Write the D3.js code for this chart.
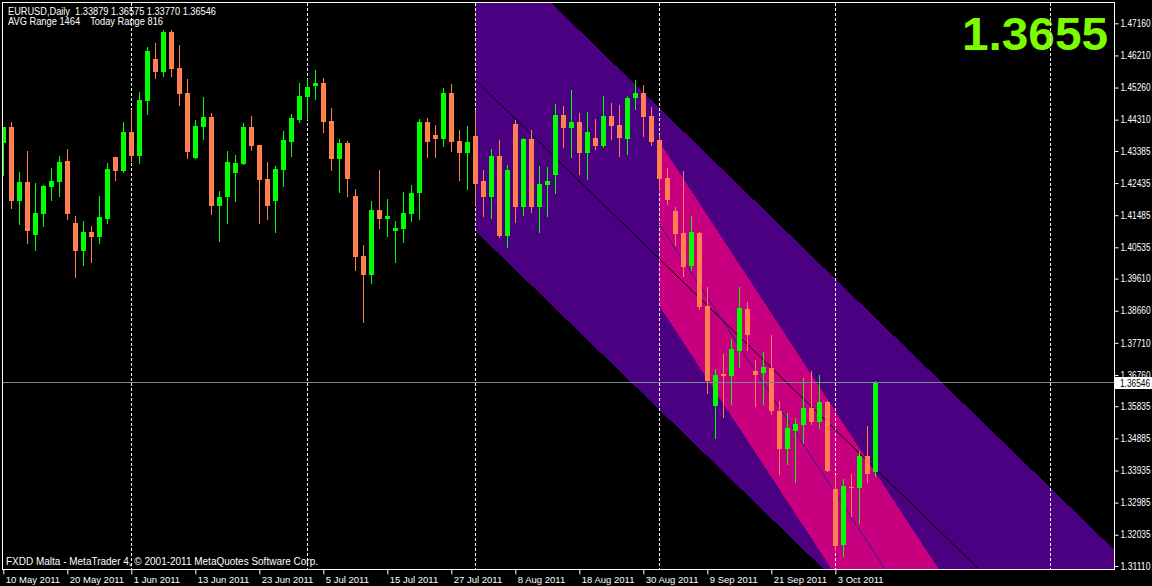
<!DOCTYPE html>
<html><head><meta charset="utf-8">
<script src="https://cdn.jsdelivr.net/npm/d3@7"></script>
<style>html,body{margin:0;padding:0;background:#000;overflow:hidden}</style>
</head><body>
<svg id="c" width="1152" height="586"></svg>
<script>
// ---- DATA (EURUSD Daily, 10 May 2011 .. 10 Oct 2011) ----
const openP = [1.4363,1.4409,1.4189,1.4247,1.4091,1.4153,1.4233,1.4248,1.4309,1.4126,
1.4044,1.4099,1.4085,1.4138,1.4321,1.4280,1.4395,1.4324,1.4486,1.4611,
1.4573,1.4690,1.4584,1.4510,1.4319,1.4410,1.4439,1.4177,1.4201,1.4274,
1.4301,1.4410,1.4356,1.4256,1.4189,1.4283,1.4366,1.4431,1.4499,1.4531,
1.4540,1.4427,1.4316,1.4362,1.4206,1.4028,1.3973,1.4164,1.4138,1.4103,
1.4109,1.4153,1.4213,1.4424,1.4386,1.4375,1.4510,1.4368,1.4331,1.4383,
1.4250,1.4201,1.4324,1.4088,1.4418,1.4174,1.4374,1.4174,1.4239,1.4266,
1.4445,1.4405,1.4424,1.4331,1.4377,1.4354,1.4442,1.4415,1.4375,1.4496,
1.4510,1.4442,1.4371,1.4259,1.4161,1.4096,1.3997,1.4096,1.3880,1.3583,
1.3680,1.3674,1.3748,1.3872,1.3688,1.3683,1.3697,1.3570,1.3456,1.3511,
1.3529,1.3579,1.3538,1.3597,1.3340,1.3172,1.3346,1.3343,1.3435,1.33879];
const highP = [1.4410,1.4424,1.4277,1.4339,1.4244,1.4239,1.4288,1.4324,1.4345,1.4146,
1.4132,1.4117,1.4206,1.4303,1.4321,1.4424,1.4460,1.4513,1.4645,1.4658,
1.4696,1.4696,1.4652,1.4551,1.4430,1.4498,1.4451,1.4220,1.4339,1.4327,
1.4421,1.4442,1.4356,1.4306,1.4294,1.4398,1.4448,1.4540,1.4551,1.4578,
1.4554,1.4466,1.4374,1.4368,1.4226,1.4061,1.4191,1.4282,1.4197,1.4132,
1.4217,1.4238,1.4433,1.4436,1.4415,1.4525,1.4537,1.4401,1.4413,1.4460,
1.4282,1.4345,1.4371,1.4297,1.4430,1.4377,1.4401,1.4294,1.4291,1.4478,
1.4472,1.4519,1.4451,1.4454,1.4433,1.4501,1.4480,1.4475,1.4501,1.4548,
1.4534,1.4469,1.4386,1.4288,1.4173,1.4279,1.4146,1.4099,1.3937,1.3694,
1.3739,1.3783,1.3937,1.3892,1.3721,1.3744,1.3795,1.3600,1.3564,1.3549,
1.3668,1.3688,1.3676,1.3600,1.3379,1.3367,1.3382,1.3450,1.3524,1.36575];
const lowP = [1.4268,1.4171,1.4121,1.4065,1.4047,1.4118,1.4192,1.4204,1.4136,1.3967,
1.4000,1.4011,1.4065,1.4124,1.4254,1.4277,1.4310,1.4303,1.4449,1.4555,
1.4561,1.4561,1.4475,1.4319,1.4319,1.4375,1.4153,1.4071,1.4124,1.4189,
1.4301,1.4340,1.4124,1.4138,1.4100,1.4236,1.4325,1.4425,1.4434,1.4493,
1.4396,1.4283,1.4218,1.4204,1.3985,1.3834,1.3949,1.4112,1.4088,1.4011,
1.4068,1.4130,1.4136,1.4322,1.4322,1.4354,1.4337,1.4254,1.4227,1.4183,
1.4147,1.4141,1.4085,1.4053,1.4127,1.4150,1.4159,1.4100,1.4147,1.4215,
1.4351,1.4322,1.4269,1.4257,1.4345,1.4351,1.4375,1.4325,1.4328,1.4464,
1.4384,1.4357,1.4223,1.4182,1.4059,1.3970,1.3985,1.3870,1.3624,1.3491,
1.3553,1.3589,1.3701,1.3751,1.3583,1.3589,1.3560,1.3382,1.3414,1.3358,
1.3476,1.3530,1.3518,1.3391,1.3157,1.3142,1.3258,1.3237,1.3358,1.33770];
const closeP = [1.4410,1.4189,1.4247,1.4103,1.4155,1.4235,1.4250,1.4306,1.4153,1.4044,
1.4099,1.4085,1.4144,1.4285,1.4280,1.4395,1.4324,1.4489,1.4634,1.4573,
1.4690,1.4582,1.4508,1.4334,1.4412,1.4439,1.4177,1.4203,1.4306,1.4303,
1.4410,1.4354,1.4254,1.4177,1.4285,1.4371,1.4436,1.4501,1.4528,1.4540,
1.4425,1.4316,1.4362,1.4257,1.4026,1.3973,1.4164,1.4138,1.4146,1.4111,
1.4155,1.4214,1.4424,1.4366,1.4375,1.4510,1.4366,1.4331,1.4365,1.4242,
1.4201,1.4324,1.4088,1.4282,1.4174,1.4374,1.4174,1.4241,1.4250,1.4445,
1.4405,1.4424,1.4331,1.4395,1.4354,1.4442,1.4413,1.4378,1.4495,1.4510,
1.4440,1.4366,1.4256,1.4192,1.4094,1.3994,1.4099,1.3878,1.3657,1.3676,
1.3674,1.3753,1.3875,1.3793,1.3677,1.3700,1.3568,1.3456,1.3520,1.3532,
1.3579,1.3538,1.3597,1.3391,1.3169,1.3349,1.3343,1.3435,1.3382,1.36546];

const xTickIndex  = [0,8,16,24,32,40,48,56,64,72,80,88,96,104];
const xTickLabels = ["10 May 2011","20 May 2011","1 Jun 2011","13 Jun 2011","23 Jun 2011",
  "5 Jul 2011","15 Jul 2011","27 Jul 2011","8 Aug 2011","18 Aug 2011","30 Aug 2011",
  "9 Sep 2011","21 Sep 2011","3 Oct 2011"];
const yTickValues = [1.47160,1.46210,1.45260,1.44310,1.43385,1.42435,1.41485,1.40535,1.39610,
  1.38660,1.37710,1.36760,1.35835,1.34885,1.33935,1.32985,1.32035,1.31110];
const gridIndex = [16,38,59,82,104,130.8];

// channels: [startIndex, startPrice, endIndex, endPrice]
const mainChannel = [59, 1.4548, 109, 1.3399];
const mainChannelHalf = 0.0446;
const subChannel = [82, 1.4123, 109, 1.3146];
const subChannelHalf = 0.0242;

const bidPrice = 1.36546;
const bigLabel = "1.3655";
const header1 = "EURUSD,Daily  1.33879 1.36575 1.33770 1.36546";
const header2 = "AVG Range 1464    Today Range 816";
const copyright = "FXDD Malta - MetaTrader 4, \u00A9 2001-2011 MetaQuotes Software Corp.";

// ---- DRAW ----
const FONT = "'Liberation Sans', Arial, sans-serif";
const svg = d3.select("#c");
const L = 3, T = 3, R = 1114, B = 569;

const x = d3.scaleLinear().domain([0, 109]).range([3.3, 875.3]);
const y = d3.scaleLinear().domain([1.3111, 1.4716]).range([566, 23.3]);

svg.append("rect").attr("width",1152).attr("height",586).attr("fill","#000");
svg.append("defs").append("clipPath").attr("id","clip")
  .append("rect").attr("x",L).attr("y",T).attr("width",R-L).attr("height",B-T);

const g = svg.append("g").attr("clip-path","url(#clip)");

function chan(a){ const s=(a[3]-a[1])/(a[2]-a[0]); return i => a[1] + (i-a[0])*s; }
const EXT = 145;
function band(a, half, color){
  const f = chan(a);
  const pts = [[a[0], f(a[0])+half],[EXT, f(EXT)+half],[EXT, f(EXT)-half],[a[0], f(a[0])-half]];
  g.append("polygon").attr("points", pts.map(p => [x(p[0]), y(p[1])].join(",")).join(" "))
    .attr("fill", color).attr("shape-rendering","crispEdges");
}
band(mainChannel, mainChannelHalf, "#4B0082");
band(subChannel, subChannelHalf, "#C8007F");

// big label
g.append("text").attr("x",962).attr("y",50).attr("font-family",FONT)
  .attr("font-weight","bold").attr("font-size",46).attr("fill","#7CFC00")
  .attr("textLength",146).attr("lengthAdjust","spacingAndGlyphs").text(bigLabel);

// grid
gridIndex.forEach(i => {
  const xx = Math.round(x(i)) + 0.5;
  g.append("line").attr("x1",xx).attr("x2",xx).attr("y1",T).attr("y2",B)
    .attr("stroke","#fff").attr("stroke-width",1).attr("stroke-dasharray","3,2");
});

// regression lines
function regLine(a, color){
  const f = chan(a);
  g.append("line").attr("x1",x(a[0])).attr("y1",y(f(a[0])))
    .attr("x2",x(EXT)).attr("y2",y(f(EXT))).attr("stroke",color).attr("stroke-width",1);
}
regLine(mainChannel, "#000");
regLine(subChannel, "#2A1C8C");

// candles
const idx = d3.range(openP.length);
const cg = g.append("g").attr("shape-rendering","crispEdges");
idx.forEach(i => {
  const o=openP[i], h=highP[i], l=lowP[i], c=closeP[i];
  const col = c > o ? "#00FF00" : "#FF7F50";
  const xc = Math.round(x(i));
  const yh = Math.round(y(h)), yl = Math.round(y(l));
  cg.append("rect").attr("x",xc).attr("y",yh).attr("width",1).attr("height",Math.max(1,yl-yh+1)).attr("fill",col);
  const yt = Math.round(y(Math.max(o,c))), yb = Math.round(y(Math.min(o,c)));
  cg.append("rect").attr("x",xc-2).attr("y",yt).attr("width",5).attr("height",Math.max(1,yb-yt)).attr("fill",col);
});

// bid line
const yb = Math.round(y(bidPrice)) + 0.5;
g.append("line").attr("x1",L).attr("x2",R).attr("y1",yb).attr("y2",yb).attr("stroke","#778899");

// frame
svg.append("rect").attr("x",2.5).attr("y",2.5).attr("width",R-2.5+0.5).attr("height",B-2.5+0.5)
  .attr("fill","none").attr("stroke","#fff");

// y axis
const ya = svg.append("g").attr("transform",`translate(${R+0.5},0)`)
  .call(d3.axisRight(y).tickValues(yTickValues).tickFormat(d3.format(".5f")).tickSize(4).tickPadding(2).tickSizeOuter(0));
ya.select(".domain").remove();
ya.selectAll("line").attr("stroke","#fff");
ya.selectAll("text").attr("fill","#fff").attr("font-family",FONT).attr("font-size",10)
  .attr("textLength",30).attr("lengthAdjust","spacingAndGlyphs");

// x axis
const xa = svg.append("g").attr("transform",`translate(0,${B+0.5})`)
  .call(d3.axisBottom(x).tickValues(xTickIndex).tickFormat((d,i)=>xTickLabels[i]).tickSize(5).tickSizeOuter(0));
xa.select(".domain").remove();
xa.selectAll("line").attr("stroke","#fff");
xa.selectAll("text").attr("fill","#fff").attr("font-family",FONT).attr("font-size",9.5)
  .attr("text-anchor","start").attr("x",2).attr("y",5).attr("dy","0.9em");

// bid label box
svg.append("rect").attr("x",1115).attr("y",yb-5.5).attr("width",37).attr("height",12).attr("fill","#fff");
svg.append("text").attr("x",1120).attr("y",yb+4).attr("font-family",FONT).attr("font-size",10)
  .attr("textLength",30).attr("lengthAdjust","spacingAndGlyphs")
  .attr("fill","#000").text(d3.format(".5f")(bidPrice));

// header & footer text
svg.append("text").attr("x",8).attr("y",15).attr("font-family",FONT).attr("font-size",10)
  .attr("textLength",208).attr("lengthAdjust","spacingAndGlyphs")
  .attr("fill","#fff").style("white-space","pre").text(header1);
svg.append("text").attr("x",8).attr("y",25).attr("font-family",FONT).attr("font-size",10)
  .attr("textLength",155).attr("lengthAdjust","spacingAndGlyphs")
  .attr("fill","#fff").style("white-space","pre").text(header2);
svg.append("text").attr("x",6).attr("y",565).attr("font-family",FONT).attr("font-size",10)
  .attr("textLength",312).attr("lengthAdjust","spacingAndGlyphs")
  .attr("fill","#fff").text(copyright);
</script>
</body></html>
